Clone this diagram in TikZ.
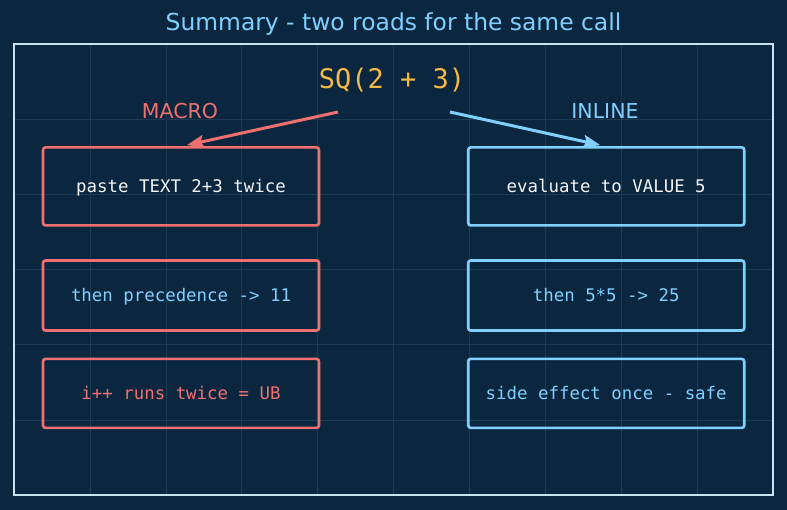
\documentclass[tikz,border=0pt]{standalone}
\usepackage{fontspec}
\setmainfont{DejaVu Sans}
\newfontfamily\monof{DejaVu Sans Mono}
\usetikzlibrary{arrows.meta,calc}
\definecolor{bgc}{HTML}{0B2740}
\definecolor{gridc}{HTML}{1B3A54}
\definecolor{framec}{HTML}{C8E2F2}
\definecolor{redc}{HTML}{F07070}
\definecolor{bluec}{HTML}{7FD0FF}
\definecolor{orangec}{HTML}{F5B945}
\definecolor{whitec}{HTML}{F2F4F6}
\tikzset{
  boxbase/.style={draw,line width=2.6pt,rounded corners=2.5pt,minimum width=276pt,inner sep=0pt,font=\monof\fontsize{17.4}{20}\selectfont,text height=14pt,text depth=2pt},
  redbox/.style={boxbase,draw=redc},
  bluebox/.style={boxbase,draw=bluec},
  arr/.style={line width=3pt,-{Stealth[length=17pt,width=13pt,inset=3pt]}},
  lbl/.style={font=\fontsize{20.5}{24}\selectfont,inner sep=0pt},
}
\begin{document}
\begin{tikzpicture}[x=1pt,y=-1pt]
\fill[bgc] (0,0) rectangle (787,510);
\useasboundingbox (0,0) rectangle (787,510);
% grid
\foreach \k in {1,...,9} \draw[gridc,line width=0.6pt] ({14+75.9*\k},44) -- ({14+75.9*\k},495);
\foreach \k in {1,...,5} \draw[gridc,line width=0.6pt] (14,{44+75.17*\k}) -- (773,{44+75.17*\k});
\draw[framec,line width=1.8pt] (14,44) rectangle (773,495);
% title
\node[font=\fontsize{23.4}{26}\selectfont,text=bluec,inner sep=0pt] (title) at (393.5,24.5) {Summary - two roads for the same call};
\node[font=\monof\fontsize{27}{30}\selectfont,text=orangec,inner sep=0pt] (sq) at (392,80) {SQ(2 + 3)};
\node[lbl,text=redc] (macro) at (180,111.5) {MACRO};
\node[lbl,text=bluec] (inline) at (605,111.5) {INLINE};
% boxes
\node[redbox,minimum height=78pt,text=whitec] (m1) at (181,186.4) {paste TEXT 2+3 twice};
\node[redbox,minimum height=70pt,text=bluec] (m2) at (181,295.5) {then precedence -> 11};
\node[redbox,minimum height=69pt,text=redc] (m3) at (181,393.4) {i++ runs twice = UB};
\node[bluebox,minimum height=78pt,text=whitec] (i1) at (606.2,186.4) {evaluate to VALUE 5};
\node[bluebox,minimum height=70pt,text=bluec] (i2) at (606.2,295.5) {then 5*5 -> 25};
\node[bluebox,minimum height=69pt,text=bluec] (i3) at (606.2,393.4) {side effect once - safe};
% arrows
\coordinate (rs) at (338,112);
\coordinate (bs) at (450,112);
\draw[arr,draw=redc,fill=redc] (rs) -- ([xshift=6pt,yshift=1pt]m1.north);
\draw[arr,draw=bluec,fill=bluec] (bs) -- ([xshift=-6pt,yshift=1pt]i1.north);
\end{tikzpicture}
\end{document}
